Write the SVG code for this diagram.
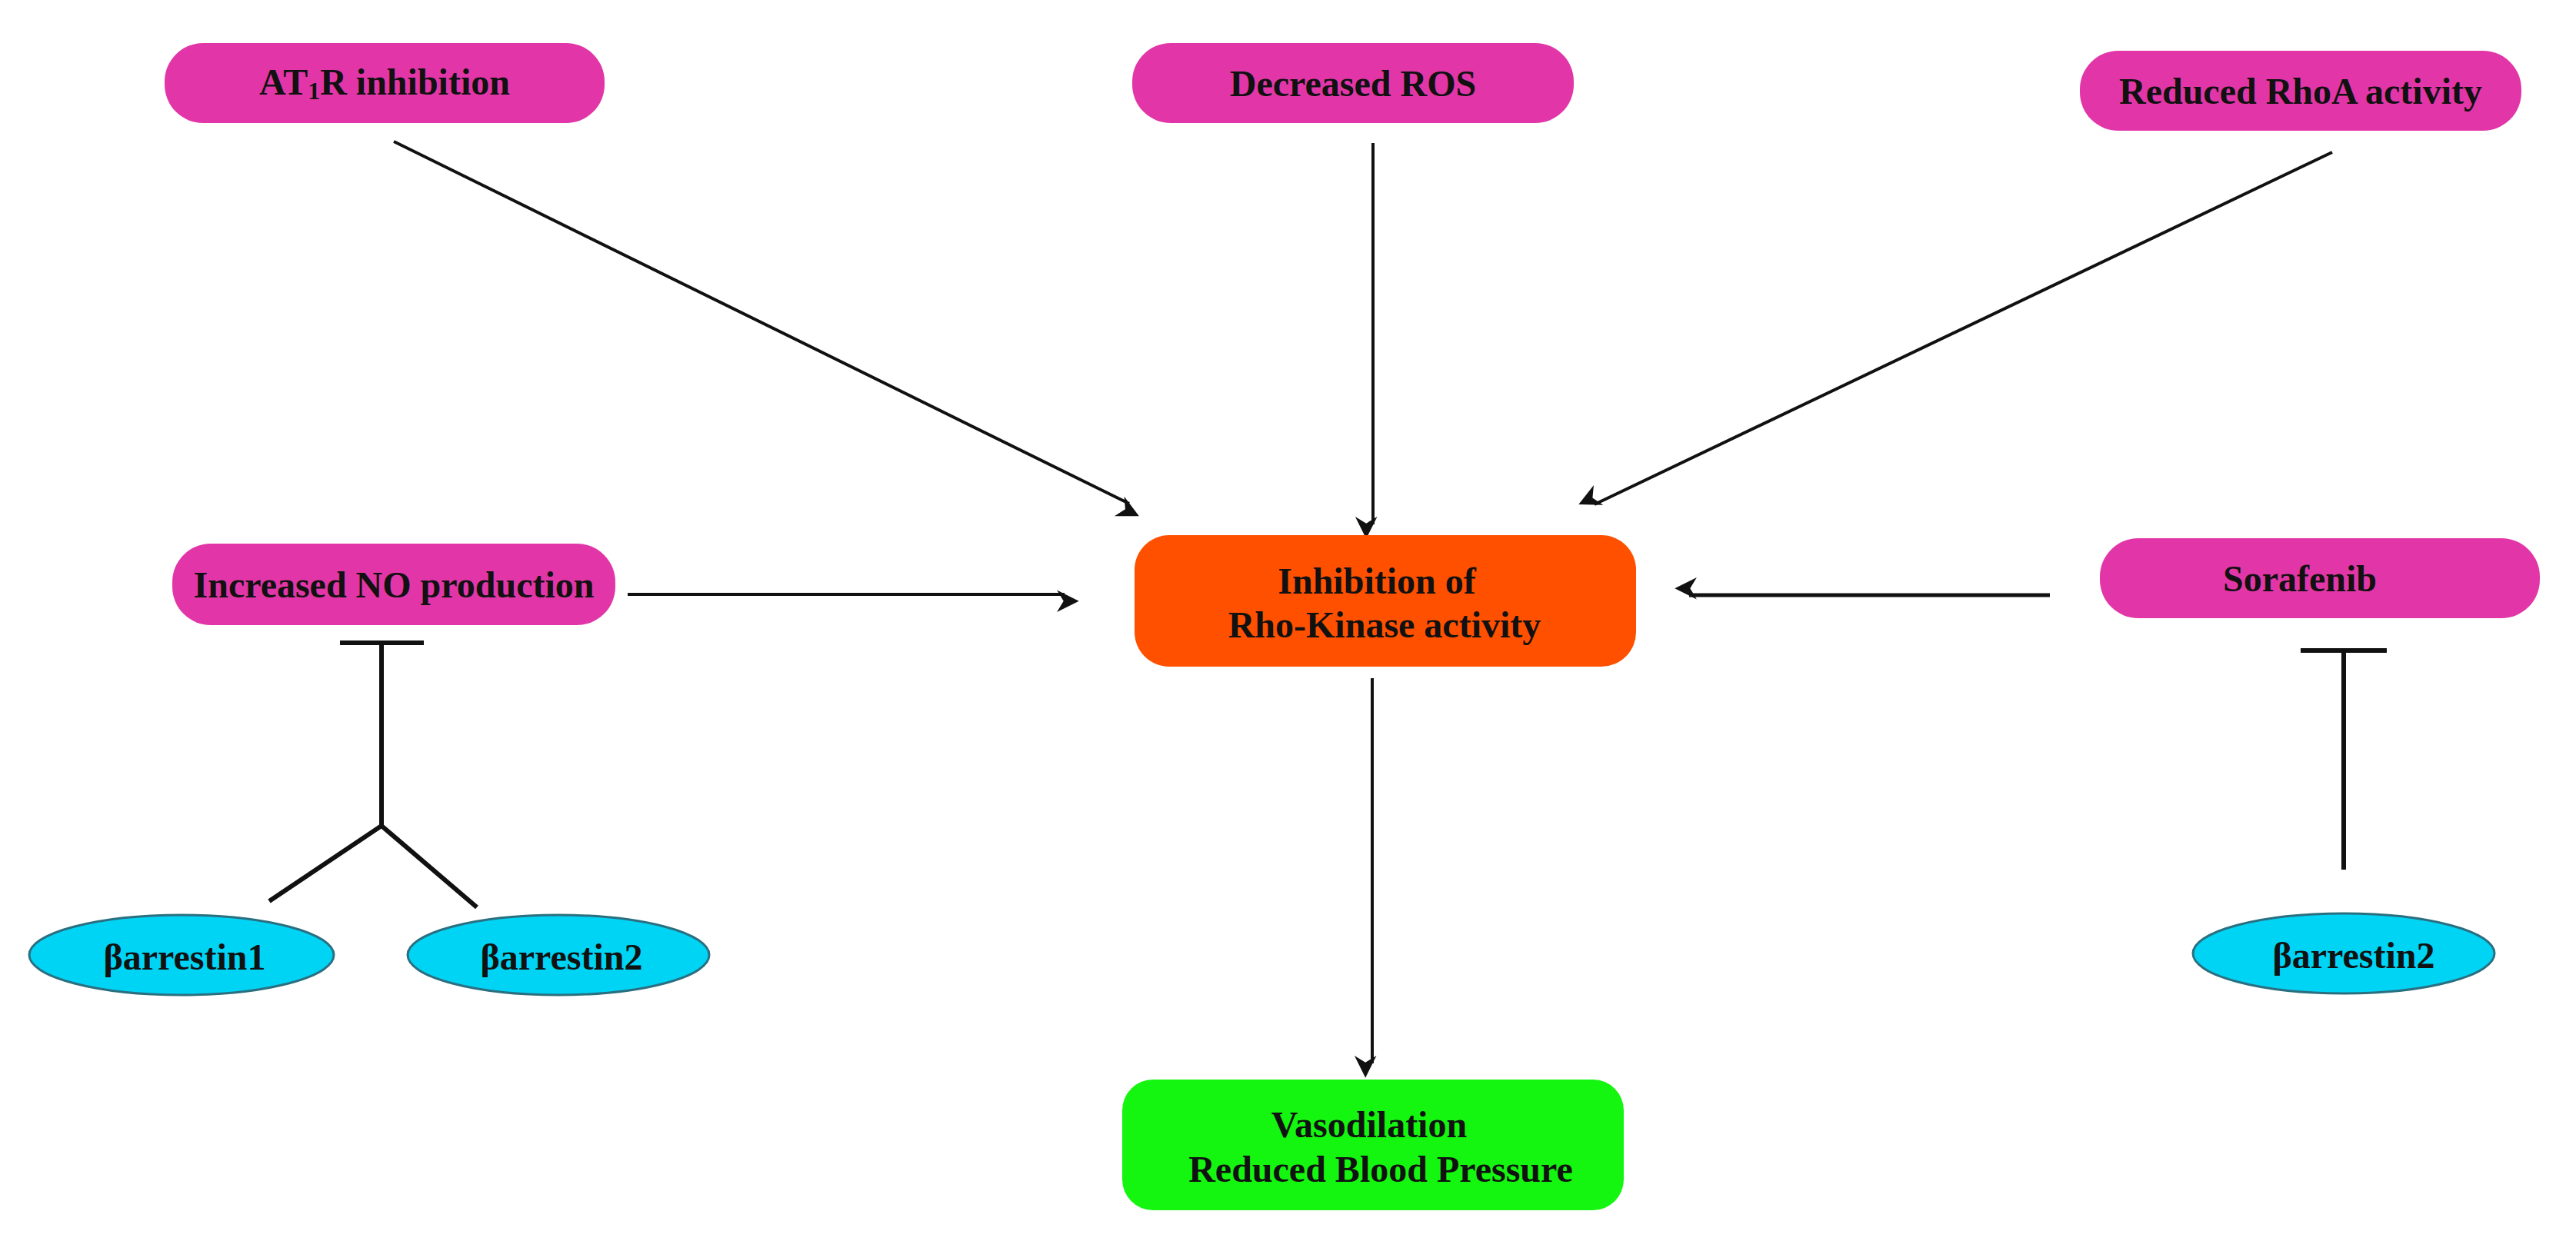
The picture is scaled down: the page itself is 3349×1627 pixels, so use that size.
<svg xmlns="http://www.w3.org/2000/svg" width="3349" height="1627" viewBox="0 0 3349 1627">
<style>
text{font-family:"Liberation Serif","Times New Roman",serif;font-weight:bold;font-size:48px;fill:#111;text-anchor:middle;dominant-baseline:central}
.pink{fill:#E236A8}
.orange{fill:#FF5000}
.green{fill:#14F50F}
.cyan{fill:#00D4F5;stroke:#2a6f80;stroke-width:3}
.arr{stroke:#111;stroke-width:4;fill:none;marker-end:url(#ah)}
.inh{stroke:#111;stroke-width:6;fill:none}
</style>
<defs>
<marker id="ah" viewBox="0 0 20 20" refX="18" refY="10" markerWidth="11" markerHeight="11" markerUnits="userSpaceOnUse" orient="auto" overflow="visible">
<path d="M0,0 L20,10 L0,20 L6,10 Z" fill="#111" transform="scale(2.6)"/>
</marker>
</defs>
<rect width="3349" height="1627" fill="#fff"/>
<g id="connectors">
<line class="arr" x1="512" y1="184" x2="1468" y2="655"/>
<line class="arr" x1="1785" y1="186" x2="1785" y2="682"/>
<line class="arr" x1="3032" y1="198" x2="2073" y2="656"/>
<line class="arr" x1="816" y1="773" x2="1384" y2="773"/>
<line class="arr" x1="2665" y1="774" x2="2196" y2="774" style="stroke-width:5"/>
<line class="arr" x1="1784" y1="882" x2="1784" y2="1383"/>
<path class="inh" d="M442,836 H551 M496,836 V1074 L350,1172 M496,1074 L620,1180"/>
<path class="inh" d="M2991,846 H3103 M3047,846 V1131"/>
</g>
<g id="at1r"><rect class="pink" x="214" y="56" width="572" height="104" rx="50"/><text x="500" y="106">AT<tspan font-size="32" dy="12">1</tspan><tspan dy="-12">R inhibition</tspan></text></g>
<g id="ros"><rect class="pink" x="1472" y="56" width="574" height="104" rx="50"/><text x="1759" y="108">Decreased ROS</text></g>
<g id="rhoa"><rect class="pink" x="2704" y="66" width="574" height="104" rx="50"/><text x="2991" y="118">Reduced RhoA activity</text></g>
<g id="no"><rect class="pink" x="224" y="707" width="576" height="106" rx="50"/><text x="512" y="760">Increased NO production</text></g>
<g id="rock"><rect class="orange" x="1475" y="696" width="652" height="171" rx="45"/><text x="1790" y="755">Inhibition of</text><text x="1800" y="812">Rho-Kinase activity</text></g>
<g id="sorafenib"><rect class="pink" x="2730" y="700" width="572" height="104" rx="50"/><text x="2990" y="752">Sorafenib</text></g>
<g id="vaso"><rect class="green" x="1459" y="1404" width="652" height="170" rx="40"/><text x="1780" y="1462">Vasodilation</text><text x="1795" y="1520">Reduced Blood Pressure</text></g>
<g id="barr1"><ellipse class="cyan" cx="236" cy="1242" rx="198" ry="52"/><text x="240" y="1244">βarrestin1</text></g>
<g id="barr2a"><ellipse class="cyan" cx="726" cy="1242" rx="196" ry="52"/><text x="730" y="1244">βarrestin2</text></g>
<g id="barr2b"><ellipse class="cyan" cx="3047" cy="1240" rx="196" ry="52"/><text x="3060" y="1242">βarrestin2</text></g>
</svg>
